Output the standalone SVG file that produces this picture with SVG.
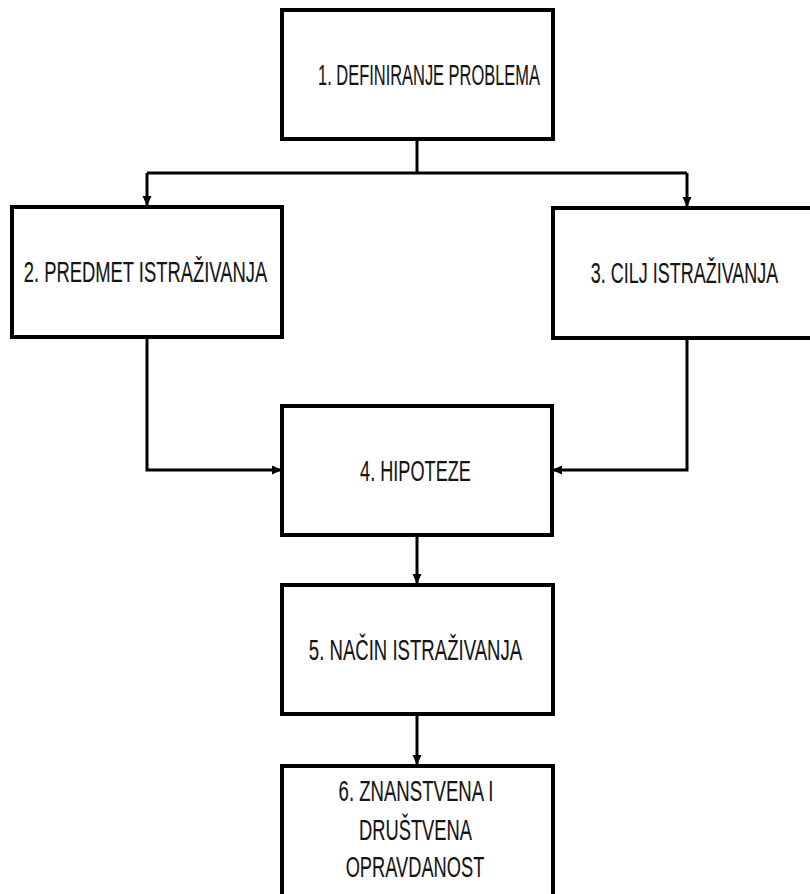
<svg xmlns="http://www.w3.org/2000/svg" width="810" height="894" viewBox="0 0 810 894">
<style>
.box{fill:#fff;stroke:#000;stroke-width:4}
.lbl{font-family:"Liberation Sans",Arial,sans-serif;font-size:30px;fill:#151515;stroke:#151515;stroke-width:0.15;text-anchor:middle}
.con{fill:none;stroke:#000;stroke-width:3}
</style>
<defs>
<marker id="ah" markerUnits="userSpaceOnUse" markerWidth="10" markerHeight="10" refX="9" refY="5" orient="auto">
<path d="M0,0.5 L10,5 L0,9.5 Z" fill="#000"/>
</marker>
</defs>
<rect width="810" height="894" fill="#fff"/>
<g id="connectors">
<path class="con" d="M417,139 V173"/>
<path class="con" d="M147,173 H687"/>
<path class="con" d="M147,173 V205" marker-end="url(#ah)"/>
<path class="con" d="M687,173 V206" marker-end="url(#ah)"/>
<path class="con" d="M147,337 V470 H281" marker-end="url(#ah)"/>
<path class="con" d="M687,338 V470 H553" marker-end="url(#ah)"/>
<path class="con" d="M417,535 V583" marker-end="url(#ah)"/>
<path class="con" d="M417,714 V764" marker-end="url(#ah)"/>
</g>
<g id="n1">
<rect class="box" x="282" y="10" width="271" height="129"/>
<text class="lbl" transform="translate(429,85) scale(0.548,1)">1. DEFINIRANJE PROBLEMA</text>
</g>
<g id="n2">
<rect class="box" x="12" y="207" width="270" height="130"/>
<text class="lbl" transform="translate(145.5,282) scale(0.613,1)">2. PREDMET ISTRAŽIVANJA</text>
</g>
<g id="n3">
<rect class="box" x="553" y="208" width="280" height="130"/>
<text class="lbl" transform="translate(684.5,283) scale(0.6,1)">3. CILJ ISTRAŽIVANJA</text>
</g>
<g id="n4">
<rect class="box" x="282" y="406" width="270" height="129"/>
<text class="lbl" transform="translate(415.5,481) scale(0.605,1)">4. HIPOTEZE</text>
</g>
<g id="n5">
<rect class="box" x="282" y="585" width="271" height="129"/>
<text class="lbl" transform="translate(415.5,660) scale(0.62,1)">5. NAČIN ISTRAŽIVANJA</text>
</g>
<g id="n6">
<rect class="box" x="282" y="766" width="271" height="140"/>
<text class="lbl" transform="translate(416,801) scale(0.62,1)">6. ZNANSTVENA I</text>
<text class="lbl" transform="translate(415.5,840) scale(0.611,1)">DRUŠTVENA</text>
<text class="lbl" transform="translate(415,877) scale(0.609,1)">OPRAVDANOST</text>
</g>
</svg>
